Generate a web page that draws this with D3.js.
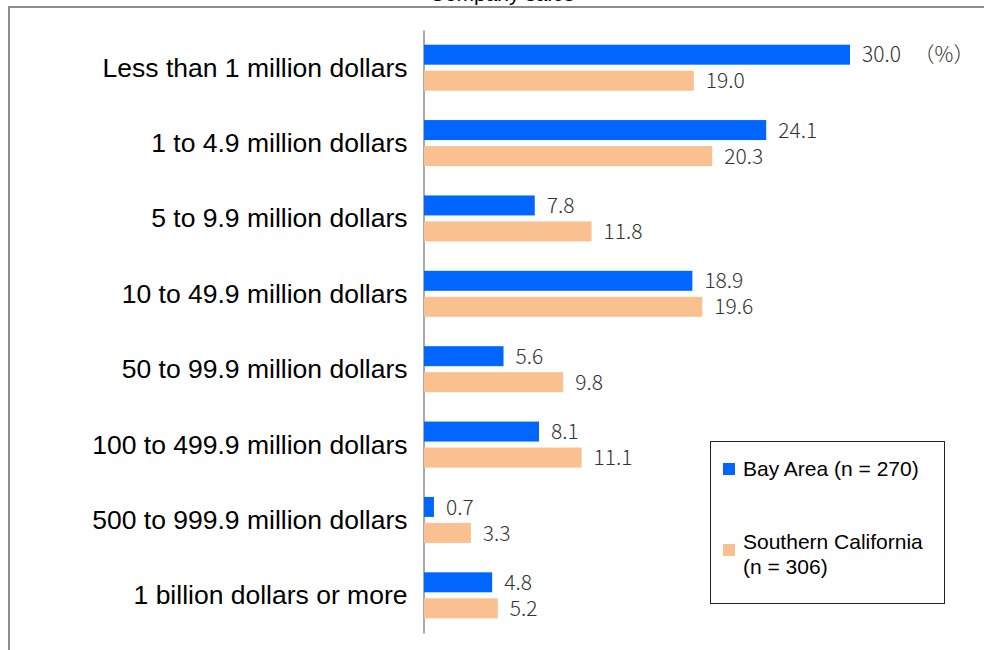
<!DOCTYPE html>
<html>
<head>
<meta charset="utf-8">
<script src="https://cdn.jsdelivr.net/npm/d3@7"></script>
<style>
  html, body { margin: 0; padding: 0; background: #fff; }
  svg { display: block; }
</style>
</head>
<body>
<svg id="chart" width="984" height="650"></svg>
<script>
// Share of companies by annual sales, Bay Area vs Southern California (%)
const categories = [
  "Less than 1 million dollars",
  "1 to 4.9 million dollars",
  "5 to 9.9 million dollars",
  "10 to 49.9 million dollars",
  "50 to 99.9 million dollars",
  "100 to 499.9 million dollars",
  "500 to 999.9 million dollars",
  "1 billion dollars or more"
];
const seriesNames = ["Bay Area (n = 270)", "Southern California (n = 306)"];
const bayArea = [30.0, 24.1, 7.8, 18.9, 5.6, 8.1, 0.7, 4.8];
const southernCalifornia = [19.0, 20.3, 11.8, 19.6, 9.8, 11.1, 3.3, 5.2];
const colors = ["#0066FF", "#FAC090"];
const titleText = "Company sales";

const rows = categories.map((c, i) => ({
  category: c,
  values: [bayArea[i], southernCalifornia[i]]
}));

const svg = d3.select("#chart");

// Title sits above the frame
svg.append("text")
  .attr("x", 502).attr("y", 1)
  .attr("text-anchor", "middle")
  .attr("font-family", "Liberation Sans, Arial, sans-serif")
  .attr("font-size", 21)
  .attr("fill", "#000")
  .text(titleText);

// Outer frame
svg.append("rect")
  .attr("x", 9).attr("y", 7)
  .attr("width", 1000).attr("height", 700)
  .attr("fill", "none")
  .attr("stroke", "#8c8c8c")
  .attr("stroke-width", 2);

const x = d3.scaleLinear().domain([0, 30]).range([424, 850]);
const y = d3.scaleBand().domain(categories).range([30, 633]).padding(0);
const inner = d3.scaleBand().domain([0, 1]).range([-23, 23]).paddingInner(0.231);

// Category axis
const yAxis = d3.axisLeft(y).tickSize(0).tickPadding(16);
const gAxis = svg.append("g")
  .attr("transform", "translate(423.5,0)")
  .call(yAxis);
gAxis.select(".domain").attr("stroke", "#8c8c8c").attr("stroke-width", 1.5);
gAxis.selectAll(".tick text")
  .attr("font-family", "Liberation Sans, Arial, sans-serif")
  .attr("font-size", 26.5)
  .attr("fill", "#000")
  .attr("dy", "0.34em");

// Bars
const groups = svg.append("g").selectAll("g")
  .data(rows).join("g")
  .attr("transform", d => `translate(0,${y(d.category) + y.bandwidth() / 2})`);

groups.selectAll("rect")
  .data(d => d.values.map((v, k) => ({ v, k })))
  .join("rect")
  .attr("x", x(0))
  .attr("y", d => inner(d.k))
  .attr("width", d => x(d.v) - x(0))
  .attr("height", inner.bandwidth())
  .attr("fill", d => colors[d.k]);

// Value labels; the first one also carries the unit
groups.selectAll("text.val")
  .data((d, i) => d.values.map((v, k) => ({ v, k, first: i === 0 && k === 0 })))
  .join("text")
  .attr("class", "val")
  .attr("x", d => x(d.v) + 12)
  .attr("y", d => inner(d.k) + inner.bandwidth() / 2)
  .attr("dy", "0.36em")
  .attr("font-family", "Noto Sans CJK JP, DejaVu Sans, sans-serif")
  .attr("font-weight", 300)
  .attr("font-size", 21)
  .attr("fill", "#333")
  .each(function (d) {
    const t = d3.select(this);
    t.append("tspan").text(d.v.toFixed(1));
    if (d.first) t.append("tspan").attr("dx", 8).text(" （%）");
  });

// Legend
const legend = svg.append("g");
legend.append("rect")
  .attr("x", 710.5).attr("y", 441.5)
  .attr("width", 234).attr("height", 162)
  .attr("fill", "#fff")
  .attr("stroke", "#222")
  .attr("stroke-width", 1);

const legendItems = [
  { lines: [seriesNames[0]], sy: 463, ty: 476 },
  { lines: ["Southern California", "(n = 306)"], sy: 544, ty: 549 }
];
legendItems.forEach((it, k) => {
  legend.append("rect")
    .attr("x", 723).attr("y", it.sy)
    .attr("width", 12).attr("height", 12)
    .attr("fill", colors[k]);
  const t = legend.append("text")
    .attr("font-family", "Liberation Sans, Arial, sans-serif")
    .attr("font-size", 21)
    .attr("fill", "#000");
  it.lines.forEach((line, j) => {
    t.append("tspan").attr("x", 743).attr("y", it.ty + j * 25).text(line);
  });
});
</script>
</body>
</html>
